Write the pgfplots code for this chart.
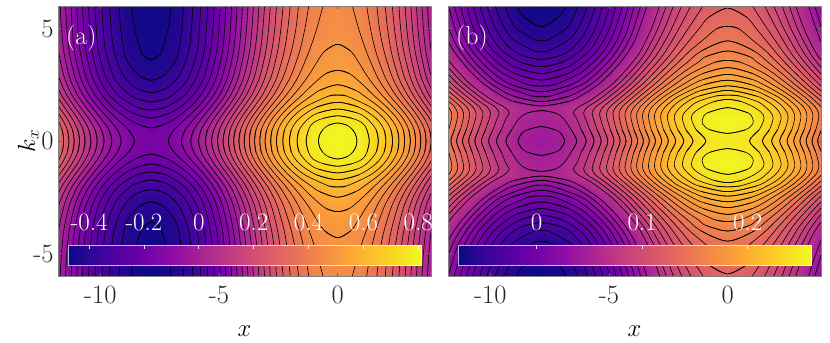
\documentclass[border=0pt]{standalone}
\usepackage{fontspec}
\setmainfont{Latin Modern Roman}
\usepackage{pgfplots}
\usepackage{pgfplotstable}
\pgfplotsset{compat=1.18}
\pgfplotsset{colormap={plasma}{rgb255=(13,8,135) rgb255=(65,4,157) rgb255=(106,0,168) rgb255=(143,13,164) rgb255=(177,42,144) rgb255=(204,71,120) rgb255=(225,100,98) rgb255=(241,132,75) rgb255=(252,166,54) rgb255=(252,206,37) rgb255=(240,249,33)}}
\pgfplotsset{cl/.style={black,line width=0.6bp,smooth,tension=0.55,no markers,forget plot}}
\newcommand\cl[1]{%
\addplot[cl,x filter/.expression={-x}] coordinates {#1};
\addplot[cl,x filter/.expression={-x},y filter/.expression={-y}] coordinates {#1};
\addplot[cl] coordinates {#1};
\addplot[cl,y filter/.expression={-y}] coordinates {#1};
\addplot[cl,x filter/.expression={x-15.7}] coordinates {#1};
\addplot[cl,x filter/.expression={x-15.7},y filter/.expression={-y}] coordinates {#1};
}
\newcommand\hm[1]{%
\addplot[surf,shader=interp,mesh/cols=11,point meta=\thisrow{z},forget plot] table[x expr=-\thisrow{d},y=k] {#1};
\addplot[surf,shader=interp,mesh/cols=11,point meta=\thisrow{z},forget plot] table[x expr=-\thisrow{d},y expr=-\thisrow{k}] {#1};
\addplot[surf,shader=interp,mesh/cols=11,point meta=\thisrow{z},forget plot] table[x=d,y=k] {#1};
\addplot[surf,shader=interp,mesh/cols=11,point meta=\thisrow{z},forget plot] table[x=d,y expr=-\thisrow{k}] {#1};
\addplot[surf,shader=interp,mesh/cols=11,point meta=\thisrow{z},forget plot] table[x expr=\thisrow{d}-15.7,y=k] {#1};
\addplot[surf,shader=interp,mesh/cols=11,point meta=\thisrow{z},forget plot] table[x expr=\thisrow{d}-15.7,y expr=-\thisrow{k}] {#1};
}
\pgfplotstableread[row sep=\\]{
d k z\\
-1 -.5 .770\\ 0 -.5 .802\\ 1 -.5 .770\\ 2 -.5 .678\\ 3 -.5 .542\\ 4 -.5 .382\\ 5 -.5 .225\\ 6 -.5 .094\\ 7 -.5 .010\\ 7.85 -.5 -.0135\\ 8.7 -.5 .010\\
-1 0 .778\\ 0 0 .81\\ 1 0 .778\\ 2 0 .687\\ 3 0 .552\\ 4 0 .393\\ 5 0 .236\\ 6 0 .106\\ 7 0 .023\\ 7.85 0 0\\ 8.7 0 .023\\
-1 .5 .770\\ 0 .5 .802\\ 1 .5 .770\\ 2 .5 .678\\ 3 .5 .542\\ 4 .5 .382\\ 5 .5 .225\\ 6 .5 .094\\ 7 .5 .010\\ 7.85 .5 -.0135\\ 8.7 .5 .010\\
-1 1 .735\\ 0 1 .767\\ 1 1 .735\\ 2 1 .643\\ 3 1 .506\\ 4 1 .346\\ 5 1 .187\\ 6 1 .056\\ 7 1 -.028\\ 7.85 1 -.0515\\ 8.7 1 -.028\\
-1 1.5 .677\\ 0 1.5 .709\\ 1 1.5 .677\\ 2 1.5 .587\\ 3 1.5 .451\\ 4 1.5 .293\\ 5 1.5 .136\\ 6 1.5 .006\\ 7 1.5 -.077\\ 7.85 1.5 -.100\\ 8.7 1.5 -.077\\
-1 2 .621\\ 0 2 .653\\ 1 2 .621\\ 2 2 .532\\ 3 2 .398\\ 4 2 .242\\ 5 2 .087\\ 6 2 -.041\\ 7 2 -.123\\ 7.85 2 -.146\\ 8.7 2 -.123\\
-1 2.5 .582\\ 0 2.5 .6135\\ 1 2.5 .582\\ 2 2.5 .493\\ 3 2.5 .360\\ 4 2.5 .205\\ 5 2.5 .051\\ 6 2.5 -.077\\ 7 2.5 -.158\\ 7.85 2.5 -.181\\ 8.7 2.5 -.158\\
-1 3 .555\\ 0 3 .586\\ 1 3 .555\\ 2 3 .466\\ 3 3 .334\\ 4 3 .179\\ 5 3 .026\\ 6 3 -.102\\ 7 3 -.183\\ 7.85 3 -.2055\\ 8.7 3 -.183\\
-1 3.5 .536\\ 0 3.5 .5675\\ 1 3.5 .536\\ 2 3.5 .447\\ 3 3.5 .315\\ 4 3.5 .160\\ 5 3.5 .006\\ 6 3.5 -.121\\ 7 3.5 -.202\\ 7.85 3.5 -.225\\ 8.7 3.5 -.202\\
-1 4 .521\\ 0 4 .552\\ 1 4 .521\\ 2 4 .433\\ 3 4 .301\\ 4 4 .147\\ 5 4 -.005\\ 6 4 -.132\\ 7 4 -.212\\ 7.85 4 -.235\\ 8.7 4 -.212\\
-1 4.5 .512\\ 0 4.5 .543\\ 1 4.5 .512\\ 2 4.5 .424\\ 3 4.5 .293\\ 4 4.5 .140\\ 5 4.5 -.012\\ 6 4.5 -.138\\ 7 4.5 -.218\\ 7.85 4.5 -.241\\ 8.7 4.5 -.218\\
-1 5 .501\\ 0 5 .532\\ 1 5 .501\\ 2 5 .414\\ 3 5 .284\\ 4 5 .132\\ 5 5 -.018\\ 6 5 -.143\\ 7 5 -.223\\ 7.85 5 -.245\\ 8.7 5 -.223\\
-1 5.5 .495\\ 0 5.5 .525\\ 1 5.5 .495\\ 2 5.5 .408\\ 3 5.5 .279\\ 4 5.5 .127\\ 5 5.5 -.022\\ 6 5.5 -.147\\ 7 5.5 -.226\\ 7.85 5.5 -.248\\ 8.7 5.5 -.226\\
-1 6 .490\\ 0 6 .52\\ 1 6 .490\\ 2 6 .403\\ 3 6 .275\\ 4 6 .124\\ 5 6 -.025\\ 6 6 -.149\\ 7 6 -.228\\ 7.85 6 -.25\\ 8.7 6 -.228\\
}\ta
\pgfplotstableread[row sep=\\]{
d k z\\
-1 -.5 .974\\ 0 -.5 .999\\ 1 -.5 .974\\ 2 -.5 .905\\ 3 -.5 .801\\ 4 -.5 .679\\ 5 -.5 .559\\ 6 -.5 .459\\ 7 -.5 .395\\ 7.85 -.5 .377\\ 8.7 -.5 .395\\
-1 0 .952\\ 0 0 .976\\ 1 0 .952\\ 2 0 .883\\ 3 0 .780\\ 4 0 .660\\ 5 0 .541\\ 6 0 .442\\ 7 0 .379\\ 7.85 0 .361\\ 8.7 0 .379\\
-1 .5 .974\\ 0 .5 .999\\ 1 .5 .974\\ 2 .5 .905\\ 3 .5 .801\\ 4 .5 .679\\ 5 .5 .559\\ 6 .5 .459\\ 7 .5 .395\\ 7.85 .5 .377\\ 8.7 .5 .395\\
-1 1 .988\\ 0 1 1.012\\ 1 1 .988\\ 2 1 .918\\ 3 1 .815\\ 4 1 .693\\ 5 1 .574\\ 6 1 .474\\ 7 1 .411\\ 7.85 1 .393\\ 8.7 1 .411\\
-1 1.5 .960\\ 0 1.5 .983\\ 1 1.5 .960\\ 2 1.5 .895\\ 3 1.5 .798\\ 4 1.5 .685\\ 5 1.5 .572\\ 6 1.5 .479\\ 7 1.5 .420\\ 7.85 1.5 .403\\ 8.7 1.5 .420\\
-1 2 .907\\ 0 2 .931\\ 1 2 .907\\ 2 2 .839\\ 3 2 .737\\ 4 2 .617\\ 5 2 .499\\ 6 2 .401\\ 7 2 .339\\ 7.85 2 .321\\ 8.7 2 .339\\
-1 2.5 .835\\ 0 2.5 .859\\ 1 2.5 .835\\ 2 2.5 .768\\ 3 2.5 .667\\ 4 2.5 .550\\ 5 2.5 .433\\ 6 2.5 .337\\ 7 2.5 .275\\ 7.85 2.5 .258\\ 8.7 2.5 .275\\
-1 3 .777\\ 0 3 .801\\ 1 3 .777\\ 2 3 .711\\ 3 3 .611\\ 4 3 .494\\ 5 3 .379\\ 6 3 .283\\ 7 3 .222\\ 7.85 3 .205\\ 8.7 3 .222\\
-1 3.5 .729\\ 0 3.5 .752\\ 1 3.5 .729\\ 2 3.5 .662\\ 3 3.5 .562\\ 4 3.5 .446\\ 5 3.5 .331\\ 6 3.5 .235\\ 7 3.5 .174\\ 7.85 3.5 .157\\ 8.7 3.5 .174\\
-1 4 .691\\ 0 4 .715\\ 1 4 .691\\ 2 4 .624\\ 3 4 .523\\ 4 4 .405\\ 5 4 .289\\ 6 4 .192\\ 7 4 .130\\ 7.85 4 .113\\ 8.7 4 .130\\
-1 4.5 .656\\ 0 4.5 .680\\ 1 4.5 .656\\ 2 4.5 .589\\ 3 4.5 .490\\ 4 4.5 .373\\ 5 4.5 .257\\ 6 4.5 .161\\ 7 4.5 .100\\ 7.85 4.5 .083\\ 8.7 4.5 .100\\
-1 5 .636\\ 0 5 .660\\ 1 5 .636\\ 2 5 .569\\ 3 5 .468\\ 4 5 .351\\ 5 5 .234\\ 6 5 .138\\ 7 5 .076\\ 7.85 5 .059\\ 8.7 5 .076\\
-1 5.5 .616\\ 0 5.5 .640\\ 1 5.5 .616\\ 2 5.5 .549\\ 3 5.5 .450\\ 4 5.5 .333\\ 5 5.5 .217\\ 6 5.5 .121\\ 7 5.5 .060\\ 7.85 5.5 .043\\ 8.7 5.5 .060\\
-1 6 .597\\ 0 6 .620\\ 1 6 .597\\ 2 6 .531\\ 3 6 .432\\ 4 6 .316\\ 5 6 .202\\ 6 6 .107\\ 7 6 .047\\ 7.85 6 .03\\ 8.7 6 .047\\
}\tb
\pgfplotsset{main/.style={
  scale only axis,width=373bp,height=270bp,
  xmin=-11.78,xmax=3.93,ymin=-6,ymax=6,
  xtick={-10,-5,0},xticklabels={-10,-5,0},ytick={-5,0,5},
  tick align=inside,tick pos=both,major tick length=3.5bp,
  axis on top,
  axis line style={black!50,line width=0.7bp},
  tick style={black!60,line width=0.5bp},
  tick label style={font=\fontsize{26.5bp}{26.5bp}\selectfont,black!85},
  xticklabel style={yshift=-6bp},
  yticklabel style={xshift=-1bp},
  xlabel={$x$},
  every axis x label/.style={at={(rel axis cs:0.5,0)},anchor=base,yshift=-60bp,inner sep=0pt,font=\fontsize{25bp}{25bp}\selectfont},
}}
\pgfplotsset{cbar/.style={
  scale only axis,width=353bp,height=20.7bp,ymin=0,ymax=1,ytick=\empty,
  tick align=inside,xtick pos=upper,xticklabel pos=upper,major tick length=3.5bp,
  axis on top,clip=false,
  axis line style={white,opacity=0.7,line width=1bp},
  tick style={white,opacity=0.85,line width=0.7bp},
  x tick label style={white,font=\fontsize{25bp}{25bp}\selectfont,yshift=15bp,anchor=base,inner sep=0pt},
}}
\begin{document}
\begin{tikzpicture}[x=1bp,y=1bp]
\path[use as bounding box] (0,0) rectangle (830,342);
\begin{axis}[main,at={(58bp,66bp)},anchor=south west,point meta min=-0.25,point meta max=0.81,
  yticklabels={-5,0,5},ylabel={$k_x$},
  every axis y label/.style={at={(rel axis cs:0,0.5)},xshift=-23bp,rotate=90,anchor=base,inner sep=0pt,font=\fontsize{25bp}{25bp}\selectfont}]
\hm{\ta}
\cl{(.63,-.5)(.75,-.3)(.81,0)(.75,.3)(.63,.5)(.39,.7)(0,.8)(-.39,.7)}
\cl{(1.23,-.5)(1.33,0)(1.23,.5)(1.04,.8)(.63,1)(0,1.12)(-.63,1)}
\cl{(1.62,-.5)(1.71,0)(1.62,.5)(1.23,1)(.81,1.25)(0,1.42)(-.81,1.25)}
\cl{(1.95,-.5)(2.03,0)(1.95,.5)(1.62,1)(.9,1.5)(0,1.72)(-.9,1.5)}
\cl{(2.24,-.5)(2.31,0)(2.24,.5)(1.95,1)(1.39,1.5)(.37,2)(0,2.04)(-.37,2)}
\cl{(2.51,-.5)(2.58,0)(2.51,.5)(2.24,1)(1.76,1.5)(1.12,2)(.76,2.25)(0,2.5)(-.76,2.25)}
\cl{(2.76,-.5)(2.82,0)(2.76,.5)(2.5,1)(2.07,1.5)(1.55,2)(1.06,2.5)(.49,3)(0,3.14)(-.49,3)}
\cl{(2.99,-.5)(3.06,0)(2.99,.5)(2.75,1)(2.35,1.5)(1.9,2)(1.51,2.5)(1.17,3)(.88,3.5)(.54,4)(0,4.3)(-.54,4)}
\cl{(3.22,-.5)(3.28,0)(3.22,.5)(2.98,1)(2.61,1.5)(2.2,2)(1.86,2.5)(1.6,3)(1.2,4)(.88,5)(.62,6)}
\cl{(3.44,-.5)(3.5,0)(3.44,.5)(3.21,1)(2.85,1.5)(2.47,2)(2.17,2.5)(1.93,3)(1.6,4)(1.38,5)(1.22,6)}
\cl{(3.66,-.5)(3.72,0)(3.66,.5)(3.43,1)(3.09,1.5)(2.73,2)(2.45,2.5)(2.24,3)(1.95,4)(1.76,5)(1.65,6)}
\cl{(3.87,-.5)(3.94,0)(3.87,.5)(3.65,1)(3.31,1.5)(2.97,2)(2.70,2.5)(2.51,3)(2.25,4)(2.10,5)(2.0,6)}
\cl{(4.09,-.5)(4.16,0)(4.09,.5)(3.87,1)(3.53,1.5)(3.2,2)(2.95,2.5)(2.76,3)(2.53,4)(2.39,5)(2.30,6)}
\cl{(4.31,-.5)(4.38,0)(4.31,.5)(4.08,1)(3.75,1.5)(3.43,2)(3.18,2.5)(3.01,3)(2.78,4)(2.65,5)(2.58,6)}
\cl{(4.53,-.5)(4.60,0)(4.53,.5)(4.30,1)(3.97,1.5)(3.65,2)(3.41,2.5)(3.24,3)(3.03,4)(2.91,5)(2.84,6)}
\cl{(4.75,-.5)(4.83,0)(4.75,.5)(4.51,1)(4.19,1.5)(3.87,2)(3.64,2.5)(3.47,3)(3.26,4)(3.15,5)(3.08,6)}
\cl{(4.98,-.5)(5.06,0)(4.98,.5)(4.74,1)(4.41,1.5)(4.09,2)(3.86,2.5)(3.69,3)(3.49,4)(3.38,5)(3.32,6)}
\cl{(5.22,-.5)(5.31,0)(5.22,.5)(4.97,1)(4.63,1.5)(4.31,2)(4.08,2.5)(3.91,3)(3.71,4)(3.61,5)(3.55,6)}
\cl{(5.48,-.5)(5.57,0)(5.48,.5)(5.21,1)(4.86,1.5)(4.53,2)(4.30,2.5)(4.14,3)(3.94,4)(3.84,5)(3.78,6)}
\cl{(5.75,-.5)(5.86,0)(5.75,.5)(5.46,1)(5.10,1.5)(4.76,2)(4.53,2.5)(4.36,3)(4.16,4)(4.07,5)(4.01,6)}
\cl{(6.06,-.5)(6.19,0)(6.06,.5)(5.73,1)(5.35,1.5)(5.0,2)(4.76,2.5)(4.59,3)(4.39,4)(4.29,5)(4.24,6)}
\cl{(6.42,-.5)(6.58,0)(6.42,.5)(6.04,1)(5.61,1.5)(5.25,2)(4.99,2.5)(4.82,3)(4.61,4)(4.52,5)(4.47,6)}
\cl{(6.89,-.5)(7.14,0)(6.89,.5)(6.39,1)(5.90,1.5)(5.51,2)(5.24,2.5)(5.06,3)(4.85,4)(4.76,5)(4.71,6)}
\cl{(8.42,.75)(7.85,.58)(7.28,.75)(6.84,1)(6.23,1.5)(5.80,2)(5.51,2.5)(5.32,3)(5.09,4)(5.0,5)(4.95,6)}
\cl{(8.64,1.25)(7.85,1.02)(7.06,1.25)(6.64,1.5)(6.12,2)(5.79,2.5)(5.58,3)(5.36,4)(5.26,5)(5.2,6)}
\cl{(8.45,1.5)(7.85,1.38)(7.25,1.5)(6.49,2)(6.12,2.5)(5.88,3)(5.62,4)(5.53,5)(5.47,6)}
\cl{(8.37,1.85)(7.85,1.73)(7.33,1.85)(7.01,2)(6.49,2.5)(6.21,3)(5.92,4)(5.82,5)(5.77,6)}
\cl{(8.39,2.3)(7.85,2.15)(7.31,2.3)(7.02,2.5)(6.62,3)(6.28,4)(6.16,5)(6.10,6)}
\cl{(8.29,2.85)(7.85,2.7)(7.41,2.85)(7.24,3)(6.86,3.5)(6.70,4)(6.56,5)(6.49,6)}
\cl{(8.16,3.8)(7.85,3.6)(7.54,3.8)(7.41,4)(7.14,5)(7.02,6)}
\end{axis}
\begin{axis}[main,at={(448bp,66bp)},anchor=south west,point meta min=0.03,point meta max=1.013,yticklabels={}]
\hm{\tb}
\cl{(8.55,5.5)(7.85,5.08)(7.15,5.5)(6.8,6)}
\cl{(8.14,4.5)(7.85,4.46)(7.56,4.5)(6.8,5)(6.51,5.5)(6.31,6)}
\cl{(8.14,4)(7.85,3.97)(7.56,4)(6.69,4.5)(6.31,5)(6.08,5.5)(5.91,6)}
\cl{(8.5,3.75)(7.85,3.63)(7.2,3.75)(6.69,4)(6.21,4.5)(5.92,5)(5.72,5.5)(5.57,6)}
\cl{(8.72,3.5)(7.85,3.3)(6.98,3.5)(6.22,4)(5.83,4.5)(5.58,5)(5.41,5.5)(5.26,6)}
\cl{(8.87,3.25)(7.85,3.0)(6.83,3.25)(6.42,3.5)(5.84,4)(5.51,4.5)(5.28,5)(5.11,5.5)(4.97,6)}
\cl{(8.98,3)(7.85,2.71)(6.72,3)(6,3.5)(5.52,4)(5.21,4.5)(4.99,5)(4.84,5.5)(4.7,6)}
\cl{(8.4,2.5)(7.85,2.44)(7.3,2.5)(6.24,3)(5.66,3.5)(5.22,4)(4.93,4.5)(4.73,5)(4.57,5.5)(4.44,6)}
\cl{(9.1,2.5)(7.85,2.19)(6.6,2.5)(5.85,3)(5.34,3.5)(4.94,4)(4.66,4.5)(4.47,5)(4.32,5.5)(4.18,6)}
\cl{(8.25,2)(7.85,1.97)(7.45,2)(6.15,2.5)(5.53,3)(5.05,3.5)(4.68,4)(4.4,4.5)(4.21,5)(4.07,5.5)(3.93,6)}
\cl{(9.03,2)(7.85,1.75)(6.67,2)(5.79,2.5)(5.23,3)(4.78,3.5)(4.42,4)(4.15,4.5)(3.96,5)(3.81,5.5)(3.67,6)}
\cl{(8.97,1.75)(7.85,1.56)(6.73,1.75)(6.2,2)(5.47,2.5)(4.95,3)(4.52,3.5)(4.17,4)(3.9,4.5)(3.72,5)(3.56,5.5)(3.41,6)}
\cl{(7.04,-.35)(6.87,0)(7.04,.35)(7.28,.5)(7.85,.64)(8.42,.5)}
\cl{(6.6,-.5)(6.36,0)(6.6,.5)(6.92,1)(7.27,1.25)(7.85,1.35)(8.43,1.25)}
\cl{(6.17,-.5)(5.96,0)(6.17,.5)(6.36,1)(6.50,1.25)(6.30,1.5)(5.87,1.75)(5.52,2)(4.89,2.5)(4.42,3)(4.01,3.5)(3.67,4)(3.21,5)(2.87,6)}
\cl{(5.81,-.5)(5.63,0)(5.81,.5)(5.99,1)(6.07,1.25)(5.92,1.5)(5.55,1.75)(5.22,2)(4.63,2.5)(4.16,3)(3.75,3.5)(3.42,4)(2.94,5)(2.59,6)}
\cl{(5.5,-.5)(5.33,0)(5.5,.5)(5.66,1)(5.71,1.25)(5.58,1.5)(5.26,1.75)(4.95,2)(4.37,2.5)(3.91,3)(3.5,3.5)(3.16,4)(2.66,5)(2.29,6)}
\cl{(5.21,-.5)(5.05,0)(5.21,.5)(5.36,1)(5.39,1.25)(5.26,1.5)(4.98,1.75)(4.68,2)(4.12,2.5)(3.66,3)(3.24,3.5)(2.89,4)(2.36,5)(1.94,6)}
\cl{(4.94,-.5)(4.79,0)(4.94,.5)(5.08,1)(5.10,1.25)(4.98,1.5)(4.71,1.75)(4.43,2)(3.87,2.5)(3.4,3)(2.97,3.5)(2.61,4)(2.05,5)(1.56,6)}
\cl{(4.69,-.5)(4.53,0)(4.69,.5)(4.81,1)(4.83,1.25)(4.72,1.5)(4.46,1.75)(4.18,2)(3.62,2.5)(3.14,3)(2.70,3.5)(2.31,4)(1.66,5)(1.04,6)}
\cl{(4.44,-.5)(4.28,0)(4.44,.5)(4.56,1)(4.57,1.25)(4.46,1.5)(4.21,1.75)(3.93,2)(3.37,2.5)(2.87,3)(2.40,3.5)(1.98,4)(1.2,5)(.8,5.5)(0,5.9)(-.8,5.5)}
\cl{(4.19,-.5)(4.04,0)(4.19,.5)(4.31,1)(4.32,1.25)(4.21,1.5)(3.96,1.75)(3.69,2)(3.11,2.5)(2.59,3)(2.08,3.5)(1.6,4)(1.03,4.5)(.45,5)(0,5.1)(-.45,5)}
\cl{(3.95,-.5)(3.79,0)(3.95,.5)(4.07,1)(4.07,1.25)(3.95,1.5)(3.71,1.75)(3.44,2)(2.84,2.5)(2.28,3)(1.7,3.5)(1.11,4)(0,4.45)(-1.11,4)}
\cl{(3.71,-.5)(3.55,0)(3.71,.5)(3.83,1)(3.82,1.25)(3.70,1.5)(3.46,1.75)(3.19,2)(2.56,2.5)(1.94,3)(1.24,3.5)(.92,3.75)(0,4)(-.92,3.75)}
\cl{(3.47,-.5)(3.3,0)(3.47,.5)(3.58,1)(3.57,1.25)(3.45,1.5)(3.21,1.75)(2.92,2)(2.25,2.5)(1.55,3)(.54,3.5)(0,3.58)(-.54,3.5)}
\cl{(3.22,-.5)(3.04,0)(3.22,.5)(3.33,1)(3.32,1.25)(3.21,1.5)(2.95,1.75)(2.65,2)(1.9,2.5)(1.04,3)(0,3.26)(-1.04,3)}
\cl{(2.96,-.5)(2.78,0)(2.96,.5)(3.08,1)(3.06,1.25)(2.93,1.5)(2.67,1.75)(2.36,2)(1.52,2.5)(.98,2.75)(0,2.96)(-.98,2.75)}
\cl{(2.70,-.5)(2.5,0)(2.70,.5)(2.82,1)(2.79,1.25)(2.65,1.5)(2.38,1.75)(2.05,2)(1.0,2.5)(0,2.7)(-1.0,2.5)}
\cl{(2.41,-.5)(2.19,0)(2.41,.5)(2.54,1)(2.5,1.25)(2.34,1.5)(2.07,1.75)(1.66,2)(1.1,2.25)(0,2.45)(-1.1,2.25)}
\cl{(2.1,-.5)(1.85,0)(2.1,.5)(2.25,1)(2.19,1.25)(2.0,1.5)(1.69,1.75)(1.2,2)(0,2.25)(-1.2,2)}
\cl{(1.76,-.5)(1.46,0)(1.76,.5)(1.91,1)(1.83,1.25)(1.6,1.5)(1.26,1.75)(.5,2)(0,2.04)(-.5,2)}
\cl{(1.33,-.5)(.92,0)(1.33,.5)(1.53,1)(1.43,1.25)(1.11,1.5)(.58,1.75)(0,1.85)(-.58,1.75)}
\cl{(-.75,.5)(0,.34)(.75,.5)(1.05,.75)(1.05,1)(.85,1.25)(0,1.48)(-.85,1.25)}
\end{axis}
\begin{axis}[cbar,at={(68bp,76.3bp)},anchor=south west,xmin=-0.477,xmax=0.81,point meta min=-0.477,point meta max=0.81,
  xtick={-0.4,-0.2,0,0.2,0.4,0.6,0.8},xticklabels={-0.4,-0.2,0,0.2,0.4,0.6,0.8}]
\addplot[surf,shader=interp,mesh/cols=2,point meta=x,forget plot] coordinates {(-0.477,0)(0.81,0)(-0.477,1)(0.81,1)};
\end{axis}
\begin{axis}[cbar,at={(458bp,76.3bp)},anchor=south west,xmin=-0.0744,xmax=0.26,point meta min=-0.0744,point meta max=0.26,
  xtick={0,0.1,0.2},xticklabels={0,0.1,0.2}]
\addplot[surf,shader=interp,mesh/cols=2,point meta=x,forget plot] coordinates {(-0.0744,0)(0.26,0)(-0.0744,1)(0.26,1)};
\end{axis}
\node[white,anchor=base west,inner sep=0pt,font=\fontsize{26bp}{26bp}\selectfont] at (66,298) {(a)};
\node[white,anchor=base west,inner sep=0pt,font=\fontsize{26bp}{26bp}\selectfont] at (456,298) {(b)};
\end{tikzpicture}
\end{document}
